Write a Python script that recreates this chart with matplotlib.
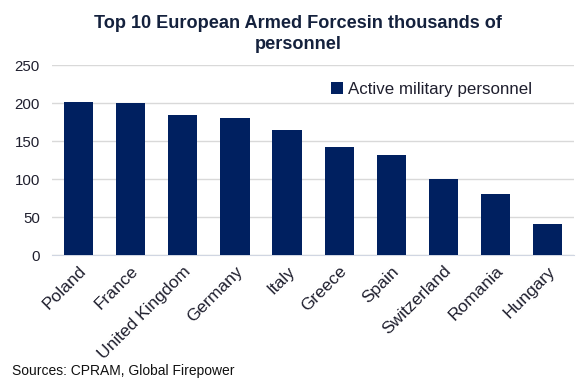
import matplotlib.pyplot as plt
import matplotlib.transforms as mtransforms
import numpy as np

plt.rcParams["font.family"] = ["Liberation Sans", "DejaVu Sans"]

countries = ["Poland", "France", "United Kingdom", "Germany", "Italy",
             "Greece", "Spain", "Switzerland", "Romania", "Hungary"]
personnel = [202, 200, 184, 180, 165, 142, 132, 100, 81, 41]
yticks = [0, 50, 100, 150, 200, 250]

navy = "#002060"
text_col = "#1f1f2e"

fig = plt.figure(figsize=(5.84, 3.83), dpi=100)
ax = fig.add_axes([0.0897, 0.334, 0.893, 0.4955])

x = np.arange(len(countries))
ax.bar(x, personnel, width=0.56, color=navy, label="Active military personnel", zorder=3)

ax.set_xlim(-0.5, len(countries) - 0.5)
ax.set_ylim(0, 250)
ax.set_yticks(yticks)
ax.set_yticklabels([str(v) for v in yticks], fontsize=10.8, color=text_col)
ax.set_xticks(x)
ax.set_xticklabels(countries, rotation=45, ha="right", va="top", rotation_mode="anchor",
                   fontsize=12.5, color=text_col)
# shift the rotated labels a little right, so they end at the bar centre
offset = mtransforms.ScaledTranslation(0.06, 0.0, fig.dpi_scale_trans)
for lab in ax.get_xticklabels():
    lab.set_transform(lab.get_transform() + offset)
ax.tick_params(axis="both", length=0)
ax.tick_params(axis="y", pad=9)
ax.tick_params(axis="x", pad=6)
ax.grid(axis="y", color="#d9d9d9", linewidth=1, zorder=0)
for side in ["top", "right", "left"]:
    ax.spines[side].set_visible(False)
ax.spines["bottom"].set_color("#d0d6e2")

ax.legend(loc="upper left", bbox_to_anchor=(0.505, 0.995), frameon=False,
          fontsize=12.2, handlelength=0.7, handleheight=0.7, handletextpad=0.3,
          labelcolor=text_col)

fig.text(0.51, 0.962, "Top 10 European Armed Forcesin thousands of\npersonnel",
         ha="center", va="top", fontsize=13.1, fontweight="bold", color="#14213d",
         linespacing=1.35)
fig.text(0.02, 0.02, "Sources: CPRAM, Global Firepower", fontsize=10, color="#111111")

fig.savefig("out.png", dpi=100)
